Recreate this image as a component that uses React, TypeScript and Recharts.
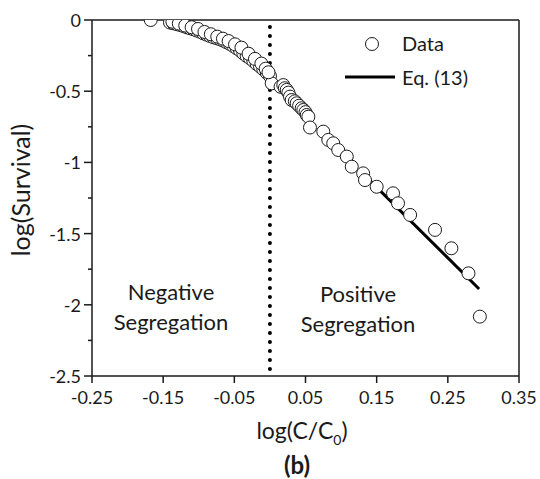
import React from 'react';
import { ScatterChart, Scatter, XAxis, YAxis, ReferenceLine } from 'recharts';

const FONT = 'Lato, "Open Sans", sans-serif';
const INK = '#1a1a1a';

// measured points, log(C/C0) vs log(Survival)
const logC = [
  -0.1675, -0.1404, -0.1357, -0.131, -0.1264, -0.1217, -0.117, -0.1123, -0.1077, -0.103,
  -0.0983, -0.0936, -0.0889, -0.0842, -0.0795, -0.0748, -0.0701, -0.0655, -0.0608, -0.0561,
  -0.0514, -0.0467, -0.042, -0.0374, -0.0327, -0.028, -0.0233, -0.0186, -0.0139, -0.0093,
  -0.0045, 0.0001, 0.0025,
  -0.137, -0.128, -0.119, -0.11, -0.101, -0.092, -0.083, -0.074, -0.066, -0.058,
  -0.049, -0.04, -0.03, -0.021, -0.012, -0.006, -0.002,
  0.015, 0.0188, 0.021, 0.0236, 0.026, 0.0282, 0.0306, 0.035, 0.0376, 0.041,
  0.0446, 0.047, 0.05, 0.0517, 0.054, 0.0563, 0.075, 0.082, 0.089, 0.096,
  0.108, 0.115, 0.131, 0.1336, 0.15, 0.173, 0.18, 0.197, 0.232, 0.255,
  0.279, 0.295,
];
const logSurvival = [
  0, -0.018, -0.023, -0.029, -0.035, -0.042, -0.051, -0.058, -0.065, -0.074,
  -0.082, -0.094, -0.103, -0.112, -0.121, -0.128, -0.136, -0.145, -0.157, -0.168,
  -0.183, -0.199, -0.215, -0.235, -0.253, -0.269, -0.288, -0.309, -0.327, -0.347,
  -0.37, -0.394, -0.445,
  -0.012, -0.025, -0.039, -0.051, -0.063, -0.084, -0.1, -0.117, -0.131, -0.148,
  -0.171, -0.194, -0.237, -0.273, -0.306, -0.342, -0.367,
  -0.469, -0.457, -0.479, -0.491, -0.51, -0.538, -0.562, -0.571, -0.585, -0.602,
  -0.62, -0.632, -0.647, -0.667, -0.679, -0.755, -0.784, -0.842, -0.866, -0.913,
  -0.959, -1.03, -1.077, -1.124, -1.171, -1.217, -1.287, -1.369, -1.474, -1.603,
  -1.779, -2.083,
];

// Eq. (13) fit line
const eqC = [0.13, 0.294];
const eqSurvival = [-1.075, -1.889];

const xTicks = [-0.25, -0.15, -0.05, 0.05, 0.15, 0.25, 0.35];
const yTicks = [0, -0.25, -0.5, -0.75, -1, -1.25, -1.5, -1.75, -2, -2.25, -2.5];

const points = logC.map((x, i) => ({ x, y: logSurvival[i] }));
const eqLine = eqC.map((x, i) => ({ x, y: eqSurvival[i] }));

const isMajor = (v: number) => Math.abs(v * 2 - Math.round(v * 2)) < 1e-9;

const YTick = (props: any) => {
  const { x, y, payload } = props;
  const major = isMajor(payload.value);
  return (
    <g>
      <line x1={major ? x + 3 : x + 7} x2={x + 11} y1={y} y2={y} stroke={INK} strokeWidth={1.5} />
      {major && (
        <text x={x} y={y} textAnchor="end" dominantBaseline="central" fontSize={18} fill={INK} fontFamily={FONT}>
          {String(payload.value)}
        </text>
      )}
    </g>
  );
};

const Circle = (props: any) => (
  <circle cx={props.cx} cy={props.cy} r={6.5} fill="#fff" stroke={INK} strokeWidth={1} />
);

const abs = (left: number, top: number, extra: React.CSSProperties = {}): React.CSSProperties => ({
  position: 'absolute',
  left,
  top,
  transform: 'translate(-50%, -50%)',
  whiteSpace: 'nowrap',
  color: INK,
  lineHeight: 1.15,
  textAlign: 'center',
  ...extra,
});

export default function App() {
  return (
    <div style={{ position: 'absolute', left: 0, top: 0, width: 540, height: 479, background: '#fff', fontFamily: FONT, overflow: 'hidden' }}>
      <ScatterChart width={540} height={479} margin={{ top: 20, right: 21, bottom: 73, left: 32 }}>
        <XAxis
          type="number"
          dataKey="x"
          domain={[-0.25, 0.35]}
          ticks={xTicks}
          allowDataOverflow
          height={30}
          tickSize={7}
          tickMargin={8}
          stroke={INK}
          strokeWidth={1.5}
          tick={{ fontSize: 18, fill: INK, fontFamily: FONT }}
          tickFormatter={(v: number) => v.toFixed(2)}
        />
        <YAxis
          type="number"
          dataKey="y"
          domain={[-2.5, 0]}
          ticks={yTicks}
          allowDataOverflow
          width={60}
          tickSize={8}
          tickMargin={3}
          tickLine={false}
          stroke={INK}
          strokeWidth={1.5}
          tick={<YTick />}
        />
        <ReferenceLine y={0} stroke={INK} strokeWidth={1.5} />
        <ReferenceLine x={0.35} stroke={INK} strokeWidth={1.5} />
        <ReferenceLine
          segment={[{ x: 0, y: -0.05 }, { x: 0, y: -2.5 }]}
          stroke="#000"
          strokeWidth={4}
          strokeDasharray="0 9"
          strokeLinecap="round"
        />
        <Scatter data={eqLine} line={{ stroke: '#000', strokeWidth: 3 }} shape={() => <g />} isAnimationActive={false} />
        <Scatter data={points} shape={<Circle />} isAnimationActive={false} />
      </ScatterChart>

      {/* legend */}
      <svg style={{ position: 'absolute', left: 340, top: 30, overflow: 'visible' }} width={60} height={60}>
        <circle cx={32} cy={14} r={6.5} fill="#fff" stroke={INK} strokeWidth={1} />
        <line x1={5} x2={55} y1={47} y2={47} stroke="#000" strokeWidth={3} />
      </svg>
      <div style={{ position: 'absolute', left: 402, top: 31, fontSize: 20, color: INK, lineHeight: '24px' }}>Data</div>
      <div style={{ position: 'absolute', left: 402, top: 65, fontSize: 20, color: INK, lineHeight: '24px' }}>Eq. (13)</div>

      <div style={abs(171, 307, { fontSize: 22, lineHeight: '30px' })}>Negative<br />Segregation</div>
      <div style={abs(358, 309, { fontSize: 22, lineHeight: '30px' })}>Positive<br />Segregation</div>

      <div style={abs(302, 430, { fontSize: 23, lineHeight: '26px' })}>
        log(C/C<sub style={{ fontSize: 14, verticalAlign: 'sub', lineHeight: 0 }}>0</sub>)
      </div>
      <div style={abs(297, 465, { fontSize: 24, fontWeight: 'bold', lineHeight: '24px' })}>(b)</div>
      <div style={abs(20, 190, { fontSize: 25, lineHeight: '28px', transform: 'translate(-50%, -50%) rotate(-90deg)' })}>log(Survival)</div>
    </div>
  );
}
